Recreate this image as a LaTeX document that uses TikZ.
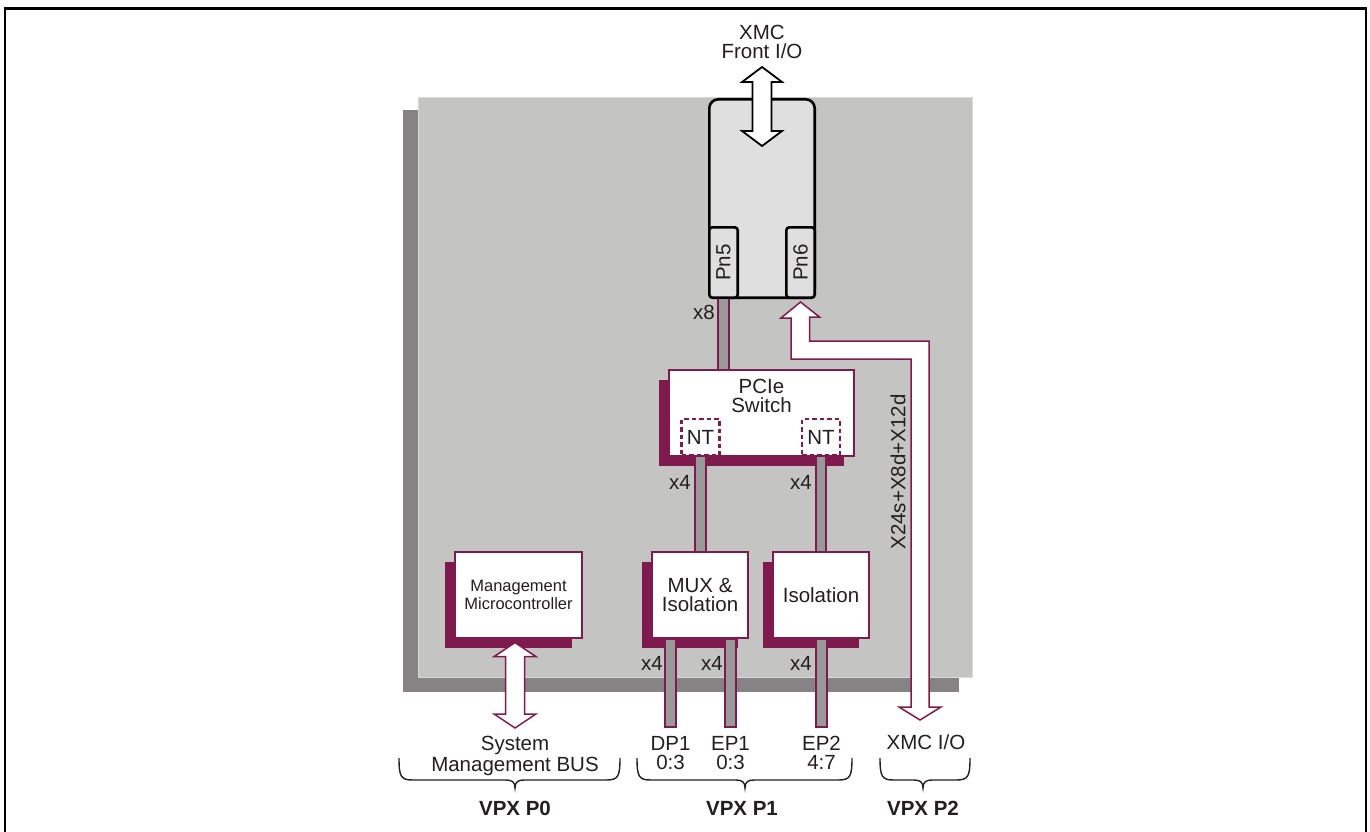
\documentclass[tikz,border=0pt]{standalone}
\usepackage{fontspec}
\setmainfont{Liberation Sans}
\usetikzlibrary{calc,shadows}
\definecolor{purp}{HTML}{7F1A4E}
\definecolor{boardgrey}{HTML}{C4C4C2}
\definecolor{boardedge}{HTML}{DADADA}
\definecolor{shadowgrey}{HTML}{858383}
\definecolor{modgrey}{HTML}{DFDFDF}
\definecolor{lanegrey}{HTML}{999999}
\definecolor{txt}{HTML}{231F20}
\newcommand{\vpxbrace}[3]{\draw[bracestyle] (#1,758) .. controls (#1,777) and (#1+2,780) .. (#1+14,780) -- (#2-9,780) .. controls (#2-3,780) and (#2,782) .. (#2,788) .. controls (#2,782) and (#2+3,780) .. (#2+9,780) -- (#3-14,780) .. controls (#3-2,780) and (#3,777) .. (#3,758);}
\begin{document}
\begin{tikzpicture}[x=1pt,y=-1pt,
  font=\fontsize{20.5}{19.5}\selectfont, text=txt,
  bracestyle/.style={line width=1.4, draw=txt},
  blk/.style={draw=purp, line width=1.2, fill=white, inner sep=0, align=center,
    general shadow={fill=purp, shadow xshift=-10pt, shadow yshift=-10pt}},
  ntbox/.style={draw=purp, dash pattern=on 4.5pt off 3pt, line width=2.5, fill=white, minimum width=38, minimum height=36, inner sep=0},
  lane/.style={draw=purp, line width=2, double=lanegrey, double distance=8.5},
  lanerect/.style={draw=purp, fill=lanegrey, line width=2},
  lbl/.style={inner sep=0, align=center},
  vpx/.style={inner sep=0, font=\fontsize{20.5}{20}\selectfont\bfseries},
  modbox/.style={draw=black, line width=2.6, fill=modgrey, inner sep=0},
  whitearrow/.style={draw=#1, line width=1.8, fill=white, line join=miter},
  band/.style={draw=purp, line width=1.5, fill=white, line join=miter}
]
\useasboundingbox (0,0) rectangle (1370,832);
% outer frame
\draw[line width=2.6] (5,834) -- (5,8.5) -- (1366,8.5) -- (1366,834);
% board
\fill[shadowgrey] (403,110) rectangle (959,692);
\node[fill=boardgrey, draw=boardedge, line width=0.8, minimum width=554, minimum height=580, anchor=north west, inner sep=0] (board) at (418,97) {};

% XMC module
\node[modbox, rounded corners=9, minimum width=105.4, minimum height=198.4] (xmc) at (762,198.5) {};
\node[modbox, rounded corners=3, minimum width=28.4, minimum height=70.4] (pn5) at (723.5,262.5) {\rotatebox{90}{Pn5}};
\node[modbox, rounded corners=3, minimum width=28.4, minimum height=70.4] (pn6) at (800.5,262.5) {\rotatebox{90}{Pn6}};

% blocks
\node[blk, minimum width=185, minimum height=86] (switch) at (761.5,413) {};
\node[lbl] (switchlbl) at (761.5,396) {PCIe\\Switch};
\node[blk, minimum width=127, minimum height=86, font=\fontsize{16.5}{17.5}\selectfont] (mgmt) at (518.5,595) {Management\\Microcontroller};
\node[blk, minimum width=96, minimum height=86] (mux) at (700,595) {MUX \&\\Isolation};
\node[blk, minimum width=96, minimum height=86] (iso) at (821,595) {Isolation};

% lanes
\coordinate (nt1pos) at (700.5,437);
\coordinate (nt2pos) at (821,437);
\draw[lane] (pn5.south) -- (pn5.south |- switch.north);
\draw[lane] (nt1pos |- switch.south) -- (nt1pos |- mux.north);
\draw[lane] (nt2pos |- switch.south) -- (nt2pos |- iso.north);
\coordinate (dp1end) at (670.5,727);
\coordinate (ep1end) at (730,727);
\coordinate (ep2end) at (821,727);
\draw[lanerect] ($(mux.south -| dp1end)+(-5.5,0)$) rectangle ($(dp1end)+(5.5,0)$);
\draw[lanerect] ($(mux.south -| ep1end)+(-5.5,0)$) rectangle ($(ep1end)+(5.5,0)$);
\draw[lanerect] ($(iso.south -| ep2end)+(-5.5,0)$) rectangle ($(ep2end)+(5.5,0)$);
% redraw box borders over lane ends
\draw[draw=purp, line width=1.2] (switch.south west) rectangle (switch.north east);
\draw[draw=purp, line width=1.2] (mux.south west) rectangle (mux.north east);
\draw[draw=purp, line width=1.2] (iso.south west) rectangle (iso.north east);
\node[ntbox] (nt1) at (nt1pos) {NT};
\node[ntbox] (nt2) at (nt2pos) {NT};

% lane labels
\node[lbl] (x8) at (704,312) {x8};
\node[lbl] (x4a) at (680,482) {x4};
\node[lbl] (x4b) at (801,482) {x4};
\node[lbl] (x4c) at (652,663) {x4};
\node[lbl] (x4d) at (712,663) {x4};
\node[lbl] (x4e) at (801,663) {x4};

% XMC I/O band
\coordinate (ptop) at ($(pn6.south)+(0,3)$);
\coordinate (pbot) at (920,720);
\draw[band] (ptop) -- ++(19,15) -- ++(-10,0) |- (929,341) -- (929,707) -- ++(12,0) -- (pbot) -- ++(-21,-13) -- ++(12,0) |- (791,359) -- (791,318) -- ++(-10,0) -- cycle;
\node[lbl, rotate=90] (rate) at (898,472) {X24s+X8d+X12d};

% front I/O arrow
\node[lbl] (front) at (762,42) {XMC\\Front I/O};
\coordinate (fa1) at (762,67);
\coordinate (fa2) at (762,146);
\draw[whitearrow=black] (fa1) -- ++(20,15) -- ++(-10.5,0) -- ($(fa2)+(9.5,-15)$) -- ++(10.5,0) -- (fa2) -- ++(-20,-15) -- ++(10.5,0) -- ($(fa1)+(-9.5,15)$) -- ++(-10.5,0) -- cycle;

% management arrow
\coordinate (ma1) at ($(mgmt.south)+(-3.5,4)$);
\coordinate (ma2) at (515,728);
\draw[whitearrow=purp, line width=1.5] (ma1) -- ++(21,14) -- ++(-11.5,0) -- ($(ma2)+(9.5,-14)$) -- ++(11.5,0) -- (ma2) -- ++(-21,-14) -- ++(11.5,0) -- ($(ma1)+(-9.5,14)$) -- ++(-11.5,0) -- cycle;

% bottom labels
\node[lbl, font=\fontsize{20.5}{21}\selectfont] (smb) at (515,755.5) {System\\Management BUS};
\node[lbl] (dp1) at (670.5,753) {DP1\\0:3};
\node[lbl] (ep1) at (730.5,753) {EP1\\0:3};
\node[lbl] (ep2) at (821.5,753) {EP2\\4:7};
\node[lbl] (xmcio) at (926,742) {XMC I/O};
\vpxbrace{399}{515}{620}
\vpxbrace{637}{745}{852}
\vpxbrace{880}{923}{970}
\node[vpx] (p0) at (515,808) {VPX P0};
\node[vpx] (p1) at (742,808) {VPX P1};
\node[vpx] (p2) at (923,808) {VPX P2};
\end{tikzpicture}
\end{document}
